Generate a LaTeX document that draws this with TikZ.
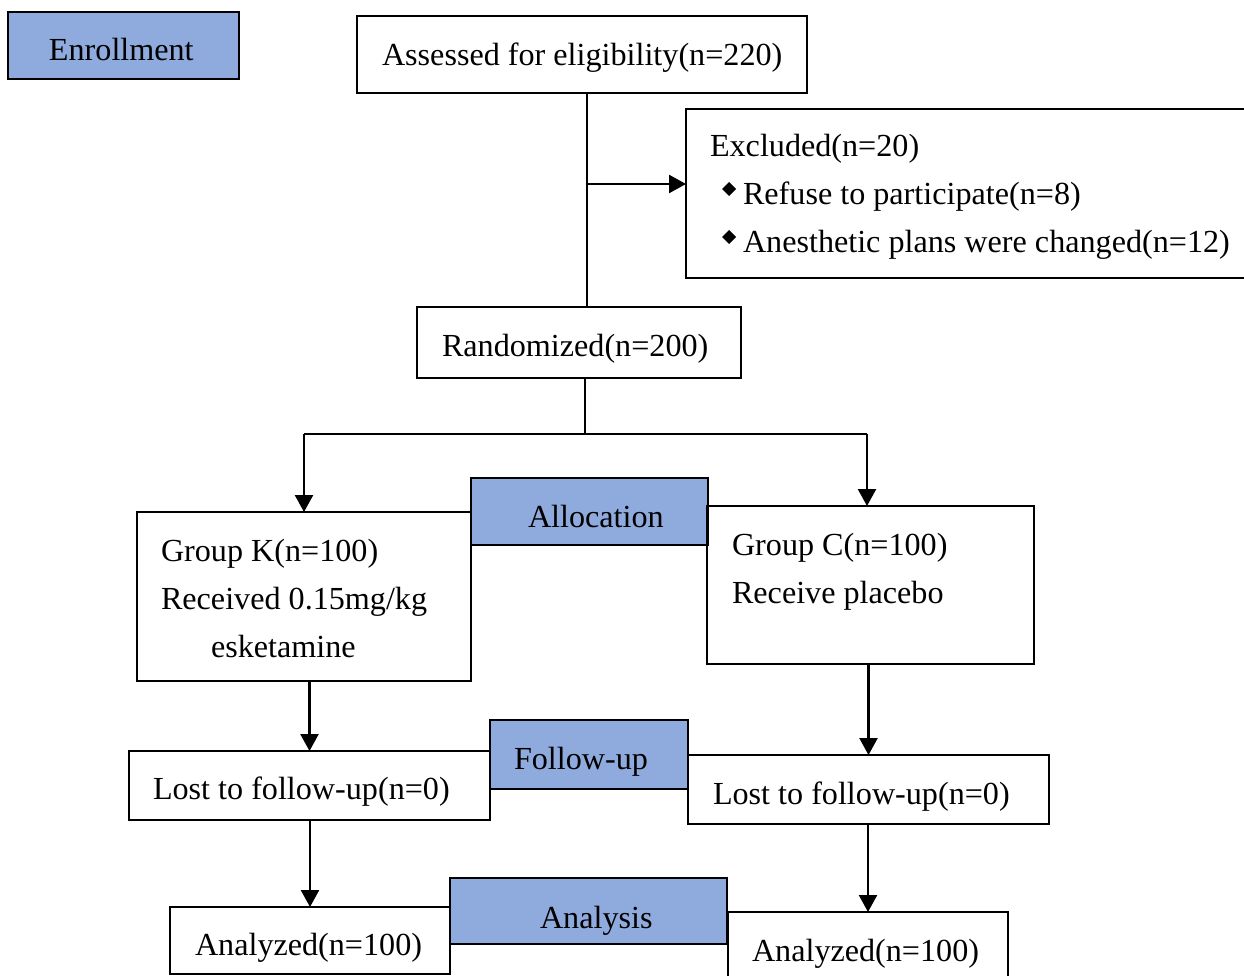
\documentclass[tikz,border=0pt]{standalone}
\usepackage{fontspec}
\setmainfont{Liberation Serif}
\usetikzlibrary{arrows.meta}
\definecolor{hdrblue}{RGB}{143,170,220}
\newcommand\bxn[6]{\node[#6, minimum width={(#4-#2)*0.02cm}, minimum height={(#5-#3)*0.02cm}] (#1) at ({(#2+#4)/2},{(#3+#5)/2}) {};}
\begin{document}
\begin{tikzpicture}[x=0.02cm, y=-0.02cm, line width=1.1pt,
  box/.style={draw=black, line width=1.1pt, inner sep=0pt, outer sep=0pt},
  hdr/.style={box, fill=hdrblue},
  txt/.style={inner sep=0pt, outer sep=0pt, anchor=base west, font=\fontsize{18.3}{21}\selectfont},
  arr/.style={line width=1.4pt, -{Triangle[length=0.34cm, width=0.36cm]}},
  conn/.style={line width=1.4pt}]
\useasboundingbox (0,0) rectangle (1244,976);
\clip (0,0) rectangle (1244,976);
% boxes
\bxn{en}{8}{12}{239}{79}{hdr}
\bxn{A}{357}{16}{807}{93}{box}
\bxn{E}{686}{109}{1262}{278}{box}
\bxn{R}{417}{307}{741}{378}{box}
\bxn{al}{471}{478}{708}{545}{hdr}
\bxn{K}{137}{512}{471}{681}{box}
\bxn{C}{707}{506}{1034}{664}{box}
\bxn{fu}{490}{720}{688}{789}{hdr}
\bxn{LL}{129}{751}{490}{820}{box}
\bxn{LR}{688}{755}{1049}{824}{box}
\bxn{an}{450}{878}{727}{944}{hdr}
\bxn{AL}{170}{907}{450}{974}{box}
\bxn{AR}{728}{912}{1008}{1000}{box}
% texts
\node[txt] (t-en) at (49,61) {Enrollment};
\node[txt] (t-A) at (382,66) {Assessed for eligibility(n=220)};
\node[txt] (t-E1) at (710,157) {Excluded(n=20)};
\node[txt] (t-E2) at (743,205) {Refuse to participate(n=8)};
\node[txt] (t-E3) at (743,253) {Anesthetic plans were changed(n=12)};
\fill (729,182) -- (736,189) -- (729,196) -- (722,189) -- cycle;
\fill (729,230) -- (736,237) -- (729,244) -- (722,237) -- cycle;
\node[txt] (t-R) at (442,357) {Randomized(n=200)};
\node[txt] (t-al) at (528,527) {Allocation};
\node[txt] (t-K1) at (161,561) {Group K(n=100)};
\node[txt] (t-K2) at (161,609) {Received 0.15mg/kg};
\node[txt] (t-K3) at (211,657) {esketamine};
\node[txt] (t-C1) at (732,555) {Group C(n=100)};
\node[txt] (t-C2) at (732,603) {Receive placebo};
\node[txt] (t-fu) at (514,769) {Follow-up};
\node[txt] (t-LL) at (153,799) {Lost to follow-up(n=0)};
\node[txt] (t-LR) at (713,804) {Lost to follow-up(n=0)};
\node[txt] (t-an) at (540,928) {Analysis};
\node[txt] (t-AL) at (195,955) {Analyzed(n=100)};
\node[txt] (t-AR) at (752,961) {Analyzed(n=100)};
% connectors
\coordinate (j1) at (587,184);
\draw[conn] (A.south -| j1) -- (R.north -| j1);
\draw[arr] (j1) -- (E.west |- j1);
\coordinate (j2) at (585,434);
\coordinate (jl) at (304,434);
\coordinate (jr) at (867,434);
\draw[conn] (R.south -| j2) -- (j2);
\draw[conn] (jl) -- (jr);
\draw[arr] (jl) -- (K.north -| jl);
\draw[arr] (jr) -- (C.north -| jr);
\draw[arr] (LL.north |- K.south) -- (LL.north);
\draw[arr] (C.south -| LR.north) -- (LR.north);
\draw[arr] (AL.north |- LL.south) -- (AL.north);
\draw[arr] (AR.north |- LR.south) -- (AR.north);
\end{tikzpicture}
\end{document}
